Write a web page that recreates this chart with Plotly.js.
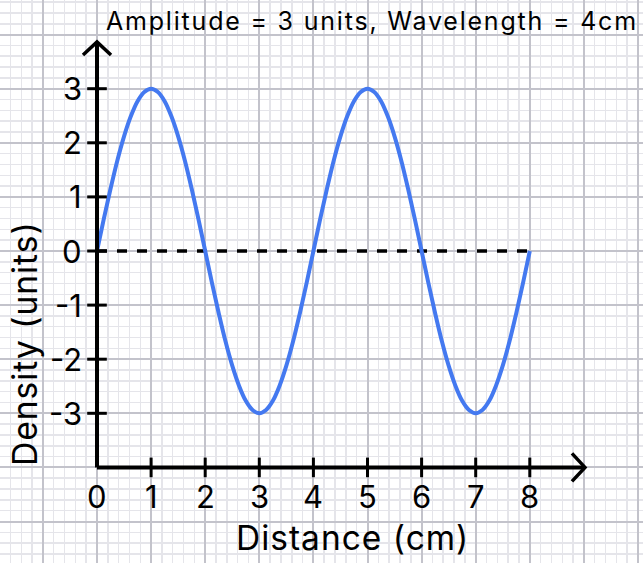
<!DOCTYPE html>
<html>
<head>
<meta charset="utf-8">
<script src="https://cdn.plot.ly/plotly-3.0.1.min.js"></script>
<style>html,body{margin:0;padding:0;background:#fff;}#chart{width:643px;height:563px;}</style>
</head>
<body>
<div id="chart"></div>
<script>
// Data
var distance = [0,0.125,0.25,0.375,0.5,0.625,0.75,0.875,1,1.125,1.25,1.375,1.5,1.625,1.75,1.875,2,2.125,2.25,2.375,2.5,2.625,2.75,2.875,3,3.125,3.25,3.375,3.5,3.625,3.75,3.875,4,4.125,4.25,4.375,4.5,4.625,4.75,4.875,5,5.125,5.25,5.375,5.5,5.625,5.75,5.875,6,6.125,6.25,6.375,6.5,6.625,6.75,6.875,7,7.125,7.25,7.375,7.5,7.625,7.75,7.875,8];
var density = [0,0.59,1.15,1.67,2.12,2.49,2.77,2.94,3,2.94,2.77,2.49,2.12,1.67,1.15,0.59,0,-0.59,-1.15,-1.67,-2.12,-2.49,-2.77,-2.94,-3,-2.94,-2.77,-2.49,-2.12,-1.67,-1.15,-0.59,0,0.59,1.15,1.67,2.12,2.49,2.77,2.94,3,2.94,2.77,2.49,2.12,1.67,1.15,0.59,0,-0.59,-1.15,-1.67,-2.12,-2.49,-2.77,-2.94,-3,-2.94,-2.77,-2.49,-2.12,-1.67,-1.15,-0.59,0];
var baselineX = [0, 8];
var baselineY = [0, 0];
var xTickVals = [0,1,2,3,4,5,6,7,8];
var xTickText = ["0","1","2","3","4","5","6","7","8"];
var yTickVals = [-3,-2,-1,0,1,2,3];
var yTickText = ["-3","-2","-1","0","1","2","3"];
var titleText = "Amplitude = 3 units, Wavelength = 4cm";
var xTitle = "Distance (cm)";
var yTitle = "Density (units)";

var FONT = "Inter, 'Noto Sans', sans-serif";
var axisY = -4;       // x axis sits at density = -4
var xMax = 9.02, yMax = 3.863;
var ah = 0.259;       // arrowhead half-size

function spaced(t, px){ return '<span style="letter-spacing:' + px + 'px">' + t + '</span>'; }

var traces = [
  {x: baselineX, y: baselineY, mode: 'lines', line: {color: '#000', width: 3.3, dash: '10px,10px'}, hoverinfo: 'skip'},
  {x: distance, y: density, mode: 'lines', line: {color: '#4479F0', width: 4, shape: 'spline', smoothing: 1}, hoverinfo: 'skip'},
  {x: xTickVals.slice(1), y: xTickVals.slice(1).map(function(){return axisY;}), mode: 'markers',
   marker: {symbol: 'line-ns-open', size: 14, color: '#000', line: {color: '#000', width: 3}}, hoverinfo: 'skip'},
  {x: yTickVals.map(function(){return 0;}), y: yTickVals, mode: 'markers',
   marker: {symbol: 'line-ew-open', size: 14, color: '#000', line: {color: '#000', width: 3}}, hoverinfo: 'skip'}
];

var annotations = [];
xTickVals.forEach(function(v, i){
  annotations.push({x: v, y: axisY, xref: 'x', yref: 'y', text: xTickText[i], showarrow: false,
    yshift: -29, font: {family: FONT, size: 31, color: '#000'}});
});
yTickVals.forEach(function(v, i){
  annotations.push({x: 0, y: v, xref: 'x', yref: 'y', text: yTickText[i], showarrow: false,
    xanchor: 'right', xshift: -13, font: {family: FONT, size: 31, color: '#000'}});
});
annotations.push({x: 371.5/643, y: 1 - 21/563, xref: 'paper', yref: 'paper', text: spaced(titleText, 1.8), showarrow: false,
  xanchor: 'center', yanchor: 'middle', font: {family: FONT, size: 25, color: '#000'}});
annotations.push({x: 352/643, y: 1 - 538/563, xref: 'paper', yref: 'paper', text: spaced(xTitle, 1), showarrow: false,
  xanchor: 'center', yanchor: 'middle', font: {family: FONT, size: 33.5, color: '#000'}});
annotations.push({x: 25/643, y: 1 - 344/563, xref: 'paper', yref: 'paper', text: spaced(yTitle, 1), showarrow: false,
  textangle: -90, xanchor: 'center', yanchor: 'middle', font: {family: FONT, size: 33.5, color: '#000'}});

var lineStyle = {color: '#000', width: 4};
var shapes = [
  {type: 'line', xref: 'x', yref: 'y', x0: 0, x1: 0, y0: axisY, y1: yMax, line: lineStyle},
  {type: 'line', xref: 'x', yref: 'y', x0: 0, x1: xMax, y0: axisY, y1: axisY, line: lineStyle},
  {type: 'path', xref: 'x', yref: 'y', path: 'M ' + (-ah) + ' ' + (yMax - ah*0.93) + ' L 0 ' + yMax + ' L ' + ah + ' ' + (yMax - ah*0.93), line: {color: '#000', width: 3.5}},
  {type: 'path', xref: 'x', yref: 'y', path: 'M ' + (xMax - ah*0.93) + ' ' + (axisY + ah) + ' L ' + xMax + ' ' + axisY + ' L ' + (xMax - ah*0.93) + ' ' + (axisY - ah), line: {color: '#000', width: 3.5}}
];

var gridAxis = function(range){
  return {range: range, dtick: 1, tick0: 0, showgrid: true, gridcolor: '#c3c3cb', gridwidth: 2,
    minor: {dtick: 0.2, showgrid: true, gridcolor: '#e5e5ea', gridwidth: 1.5},
    zeroline: false, showticklabels: false, ticks: '', showline: false, fixedrange: true};
};

var layout = {
  width: 643, height: 563,
  margin: {l: 0, r: 0, t: 0, b: 0},
  paper_bgcolor: '#fff', plot_bgcolor: '#fff',
  showlegend: false,
  xaxis: gridAxis([-97/54.1, (643-97)/54.1]),
  yaxis: gridAxis([(251-563)/54.1, 251/54.1]),
  annotations: annotations,
  shapes: shapes
};

Plotly.newPlot('chart', traces, layout, {displayModeBar: false, staticPlot: true});
</script>
</body>
</html>
